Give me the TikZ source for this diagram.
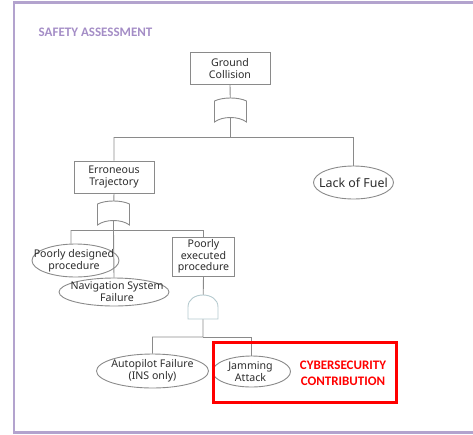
\documentclass[tikz,border=0pt]{standalone}
\usepackage{fontspec}
\setmainfont{Noto Sans}
\newfontfamily\headfont{Carlito}
\usetikzlibrary{shapes.geometric}
\definecolor{framecol}{HTML}{B3A3CE}
\definecolor{headcol}{HTML}{A48DC6}
\definecolor{linecol}{HTML}{8A8A8A}
\definecolor{txtcol}{HTML}{2C2C2C}
\definecolor{andcol}{HTML}{B5CACF}
\definecolor{cyred}{HTML}{FF0000}
\begin{document}
\begin{tikzpicture}[x=1pt,y=-1pt,
  conn/.style={draw=linecol, line width=0.9pt},
  evbox/.style={rectangle, draw=linecol, line width=0.9pt, inner sep=0pt,
    align=center, text=txtcol, font=\fontsize{10.6}{11.7}\selectfont},
  evell/.style={ellipse, draw=linecol, line width=0.9pt, inner sep=0pt},
  evlabel/.style={align=center, text=txtcol, inner sep=0pt,
    font=\fontsize{10.6}{11.8}\selectfont},
  gatenode/.style={rectangle, inner sep=0pt, minimum width=32pt, minimum height=24pt},
  pics/orgate/.style={code={
    \draw[linecol, line width=0.9pt, fill=white]
      (-16,12) -- (-16,-9) .. controls (-8,-13) and (8,-13) .. (16,-9)
      -- (16,12) .. controls (8,6) and (-8,6) .. (-16,12) -- cycle;}},
  pics/andgate/.style={code={
    \draw[andcol, line width=0.9pt, fill=white]
      (-15,12) -- (-15,0) .. controls (-15,-16) and (15,-16) .. (15,0)
      -- (15,12) -- cycle;}}
]
\useasboundingbox (0,0) rectangle (473,434);
\clip (0,0) rectangle (473,434);

% outer frame and heading
\draw[framecol, line width=2.6pt] (13.8,2.2) rectangle (520,432.7);
\node[anchor=west, inner sep=0pt, text=headcol, font=\headfont\bfseries\fontsize{13}{15}\selectfont]
  (head) at (38.5,32.5) {SAFETY ASSESSMENT};

% events
\node[evbox, minimum width=80pt, minimum height=32pt] (gc) at (230,68.5) {Ground\\Collision};
\node[evbox, minimum width=80pt, minimum height=32pt] (et) at (114,177) {Erroneous\\Trajectory};
\node[evell, minimum width=80pt, minimum height=33pt] (lf) at (353.5,182.5) {};
\node[evlabel, font=\fontsize{12.4}{14}\selectfont] at (lf) {Lack of Fuel};
\node[evell, minimum width=87pt, minimum height=33pt] (pd) at (75.5,260.5) {};
\node[evlabel] at ([xshift=-1.5pt]pd.center) {Poorly designed\\procedure};
\node[evbox, minimum width=62pt, minimum height=39pt] (pe) at (203.5,256.5) {Poorly\\executed\\procedure};
\node[evell, minimum width=110pt, minimum height=28pt] (nav) at (114,292) {};
\node[evlabel] at ([xshift=3pt]nav.center) {Navigation System\\Failure};
\node[evell, minimum width=112pt, minimum height=34pt] (ap) at (152.5,371) {};
\node[evlabel] at (ap) {Autopilot Failure\\(INS only)};
\node[evell, minimum width=78pt, minimum height=31pt] (ja) at (251.5,371.5) {};
\node[evlabel] at ([xshift=-1pt]ja.center) {Jamming\\Attack};

% gates
\node[gatenode] (or1) at (230.5,110) {};
\node[gatenode] (or2) at (113.5,213) {};
\node[gatenode, minimum width=30pt] (and1) at (203,307) {};
\coordinate (bar1) at (230.5,137.5);
\coordinate (bar2) at (113.5,230.5);
\coordinate (bar3) at (203,337);

% connectors
\draw[conn] (gc.south) -- (or1.center) -- (bar1) -| (et.north);
\draw[conn] (bar1) -| (lf.north);
\draw[conn] (et.south) -- (or2.center) -- (bar2) -| ([xshift=-4.5pt]pd.north);
\draw[conn] (bar2) -| (pe.north);
\draw[conn] (bar2) -- (nav.north);
\draw[conn] (pe.south) -- (and1.center) -- (bar3) -| (ap.north);
\draw[conn] (bar3) -| (ja.north);

\pic at (or1) {orgate};
\pic at (or2) {orgate};
\pic at (and1) {andgate};

% highlighted contribution
\node[rectangle, draw=cyred, line width=3pt, minimum width=183pt, minimum height=60pt, inner sep=0pt]
  (cyb) at (305,372.5) {};
\node[align=center, inner sep=0pt, text=cyred, font=\headfont\bfseries\fontsize{13}{15.7}\selectfont]
  (cybt) at (343,373) {CYBERSECURITY\\CONTRIBUTION};
\end{tikzpicture}
\end{document}
